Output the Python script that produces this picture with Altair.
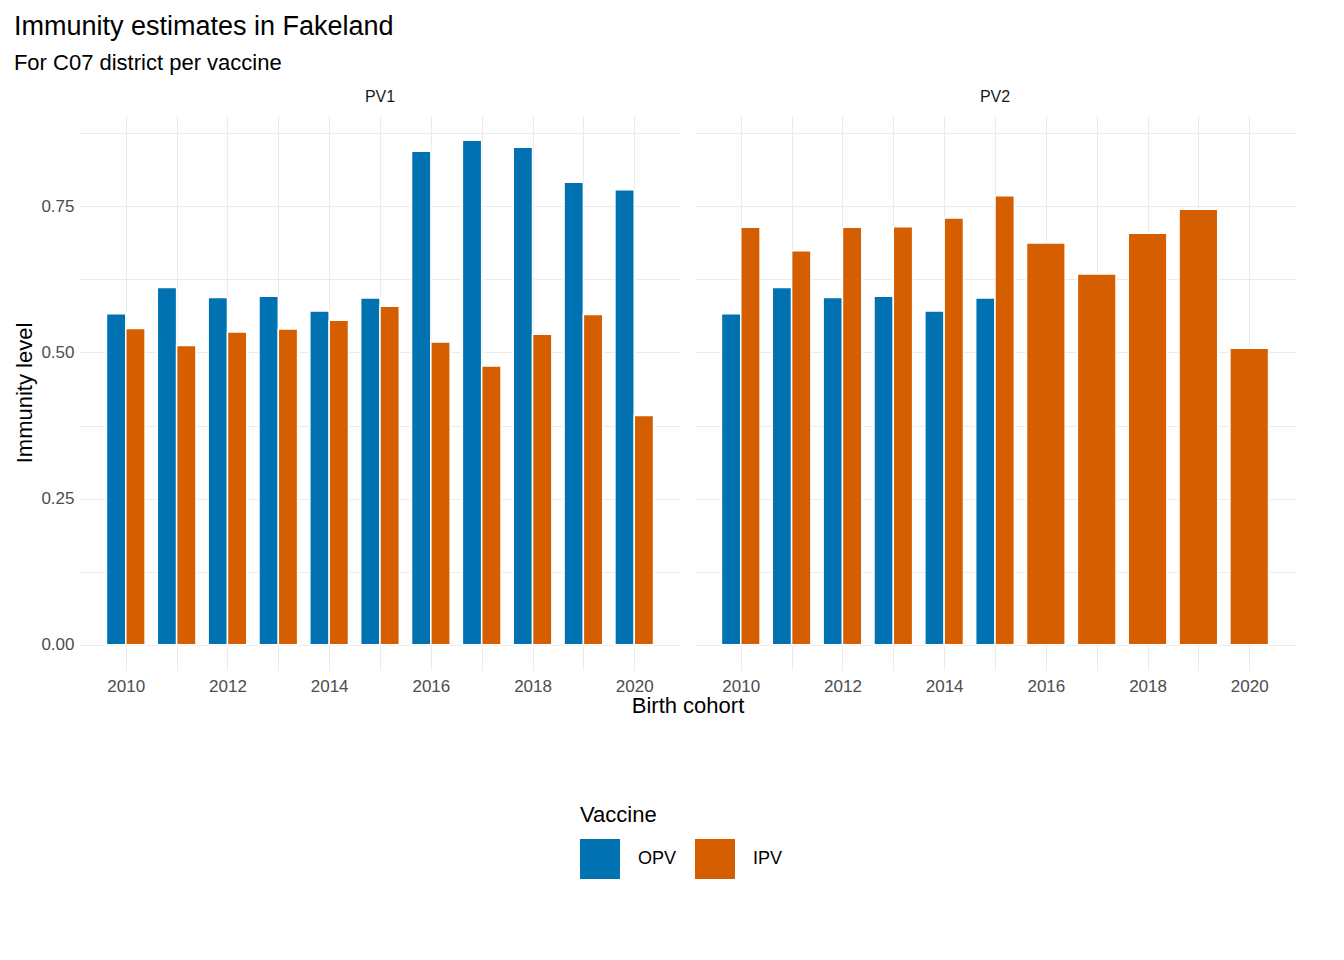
import pandas as pd
import altair as alt

years = list(range(2010, 2021))
pv1_opv = [0.566, 0.611, 0.594, 0.596, 0.571, 0.593, 0.844, 0.863, 0.851, 0.791, 0.778]
pv1_ipv = [0.541, 0.512, 0.535, 0.540, 0.555, 0.579, 0.518, 0.477, 0.531, 0.565, 0.392]
pv2_opv = [0.566, 0.611, 0.594, 0.596, 0.571, 0.593]  # only 2010-2015
pv2_ipv = [0.714, 0.674, 0.714, 0.715, 0.730, 0.768, 0.687, 0.634, 0.704, 0.745, 0.507]

rows = []
for y, v in zip(years, pv1_opv):
    rows.append({"panel": "PV1", "year": y, "vaccine": "OPV", "value": v})
for y, v in zip(years, pv1_ipv):
    rows.append({"panel": "PV1", "year": y, "vaccine": "IPV", "value": v})
for y, v in zip(years, pv2_opv):
    rows.append({"panel": "PV2", "year": y, "vaccine": "OPV", "value": v})
for y, v in zip(years, pv2_ipv):
    rows.append({"panel": "PV2", "year": y, "vaccine": "IPV", "value": v})
df = pd.DataFrame(rows)

font = "Liberation Sans"

# dodge like ggplot: a lone bar takes the whole slot
bars = (alt.Chart(df)
    .transform_joinaggregate(n="count()", groupby=["panel", "year"])
    .transform_calculate(idx="datum.n == 1 ? 0 : (datum.vaccine == 'OPV' ? 0 : 1)")
    .transform_calculate(x0="datum.year - 0.38 + datum.idx * 0.76 / datum.n")
    .transform_calculate(x1="datum.x0 + 0.76 / datum.n")
    .mark_bar(stroke="white", strokeWidth=1.5)
    .encode(
        x=alt.X("x0:Q", title=None,
                scale=alt.Scale(domain=[2009.1, 2020.9], nice=False, zero=False),
                axis=alt.Axis(values=years, labelExpr="datum.value % 2 == 0 ? datum.value : ''",
                              ticks=False, domain=False, gridColor="#ebebeb", labelPadding=8)),
        x2="x1:Q",
        y=alt.Y("value:Q", title="Immunity level",
                scale=alt.Scale(domain=[-0.043, 0.906], nice=False, zero=False),
                axis=alt.Axis(values=[0, 0.125, 0.25, 0.375, 0.5, 0.625, 0.75, 0.875],
                              labelExpr="datum.value * 4 % 1 == 0 ? format(datum.value, '.2f') : ''",
                              ticks=False, domain=False, gridColor="#ebebeb", labelPadding=6)),
        y2=alt.datum(0),
        color=alt.Color("vaccine:N", title="Vaccine",
                        scale=alt.Scale(domain=["OPV", "IPV"], range=["#0072b2", "#d55e00"]),
                        legend=alt.Legend(orient="none", legendX=500, legendY=690,
                                          direction="horizontal", titleOrient="top",
                                          symbolType="square", symbolSize=1600, symbolStrokeWidth=0,
                                          titleFontSize=22, labelFontSize=18, titleFontWeight="normal",
                                          labelOffset=18, columnPadding=18, titlePadding=12))
    )
    .properties(width=600, height=555)
)

chart = (bars
    .facet(column=alt.Column("panel:N", title="Birth cohort",
                             header=alt.Header(labelFontSize=16, labelColor="#1a1a1a", labelFont=font,
                                               labelOrient="top", titleOrient="bottom",
                                               titleFont=font, titleFontSize=22, titleFontWeight="normal",
                                               titleColor="black", titlePadding=-8)))
    .resolve_scale(x="shared")
    .properties(title=alt.Title("Immunity estimates in Fakeland", subtitle="For C07 district per vaccine",
                                anchor="start", fontSize=27, subtitleFontSize=22, fontWeight="normal",
                                font=font, subtitleFont=font, color="black", subtitleColor="black",
                                subtitlePadding=12, offset=14))
    .configure_facet(spacing=15)
    .configure_view(stroke=None)
    .configure_axis(labelFont=font, titleFont=font, labelFontSize=17, labelColor="#4d4d4d",
                    titleFontSize=22, titleFontWeight="normal", titleColor="black")
    .configure_legend(labelFont=font, titleFont=font, titleColor="black", labelColor="black")
)

chart.save("out.html", embed_options={"renderer": "svg", "actions": False})
